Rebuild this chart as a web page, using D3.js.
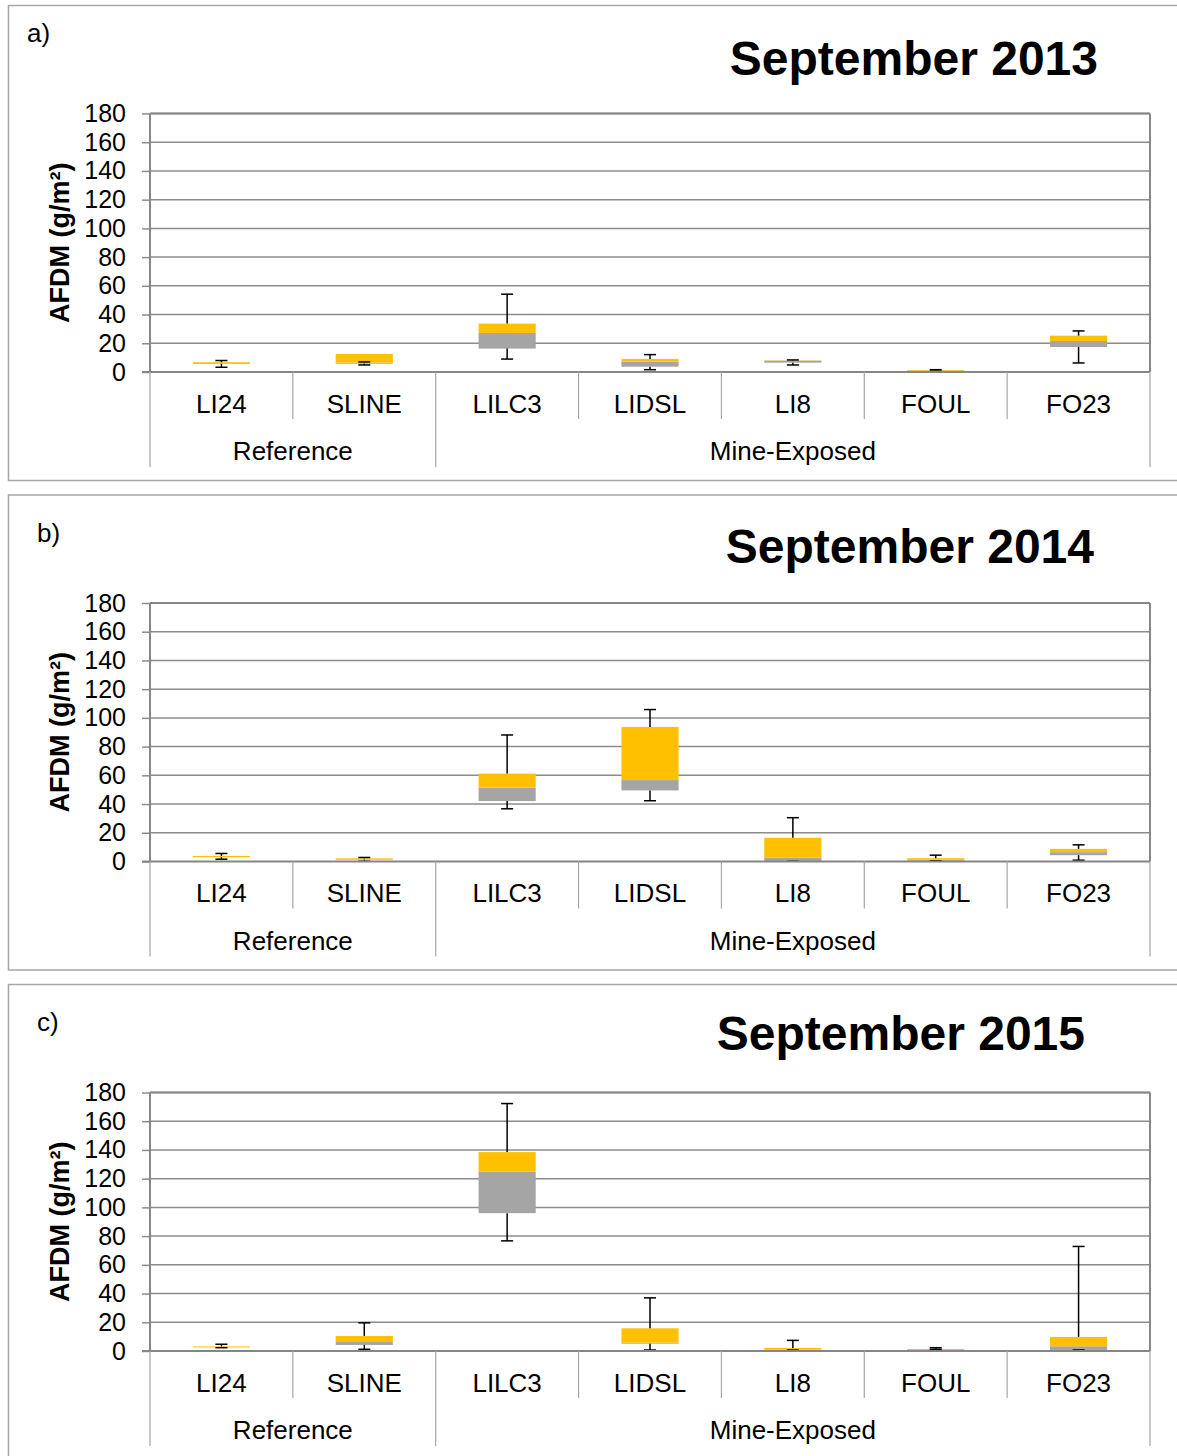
<!DOCTYPE html>
<html lang="en">
<head>
  <meta charset="utf-8">
  <title>AFDM September box plots</title>
  <script src="https://d3js.org/d3.v7.min.js" charset="utf-8"></script>
  <style type="text/css">
    body { margin: 0; background: #fff; }
    svg text { font-family: "Liberation Sans", Arial, sans-serif; fill: #000; }
  </style>
</head>
<body>
  <svg id="chart" width="1177" height="1456" xmlns="http://www.w3.org/2000/svg"></svg>
  <script type="text/javascript">
    // sites, grouped into Reference / Mine-Exposed
    var sites = ["LI24", "SLINE", "LILC3", "LIDSL", "LI8", "FOUL", "FO23"];
    var groupNames = ["Reference", "Mine-Exposed"];
    var groupSizes = [2, 5];
    var titles = ["September 2013", "September 2014", "September 2015"];
    var letters = ["a)", "b)", "c)"];
    var yTicks = [0, 20, 40, 60, 80, 100, 120, 140, 160, 180];

    // five number summaries, one array per statistic and year
    var min2013 = [3.3, 4.9, 9.0, 1.6, 4.9, 0.5, 6.3];
    var q1_2013 = [5.6, 5.8, 16.3, 3.7, 6.5, 0.7, 17.4];
    var med2013 = [5.6, 6.5, 27.2, 7.2, 7.9, 1.0, 21.6];
    var q3_2013 = [6.8, 12.6, 33.7, 9.1, 8.1, 1.4, 25.3];
    var max2013 = [8.0, 7.0, 54.2, 12.1, 8.4, 1.6, 28.6];

    var min2014 = [1.6, 0.2, 36.7, 42.3, 0.2, 0.5, 0.9];
    var q1_2014 = [3.0, 1.2, 42.1, 49.5, 0.2, 0.5, 4.4];
    var med2014 = [3.1, 1.2, 51.4, 56.7, 2.8, 1.2, 6.5];
    var q3_2014 = [3.9, 2.2, 61.2, 93.7, 16.5, 2.3, 8.8];
    var max2014 = [5.6, 2.8, 88.1, 105.8, 30.5, 4.4, 11.6];

    var min2015 = [2.3, 1.2, 76.7, 0.7, 0.7, 1.2, 0.7];
    var q1_2015 = [2.5, 4.2, 96.0, 5.1, 0.7, 0.5, 0.7];
    var med2015 = [2.6, 6.3, 124.9, 5.8, 0.9, 0.7, 3.3];
    var q3_2015 = [3.2, 10.5, 138.5, 15.8, 2.1, 1.4, 9.8];
    var max2015 = [4.7, 19.6, 172.3, 37.0, 7.4, 2.3, 72.8];

    var panels = [
      { min: min2013, q1: q1_2013, med: med2013, q3: q3_2013, max: max2013 },
      { min: min2014, q1: q1_2014, med: med2014, q3: q3_2014, max: max2014 },
      { min: min2015, q1: q1_2015, med: med2015, q3: q3_2015, max: max2015 }
    ];

    var panelTop = [0, 489.5, 979];
    var titlePos = [[1098, 75], [1094, 563], [1085, 1050]];
    var letterPos = [[27, 42], [37, 542], [37, 1031]];

    var svg = d3.select("#chart");
    var plotLeft = 150, plotRight = 1150, plotTop = 113.5, plotBottom = 372;

    var x = d3.scaleBand().domain(sites).range([plotLeft, plotRight]);
    var y = d3.scaleLinear().domain([0, 180]).range([plotBottom, plotTop]);
    var boxW = x.bandwidth() * 0.4;

    panels.forEach(function(p, i) {
      var g = svg.append("g").attr("transform", "translate(0," + panelTop[i] + ")");

      // outer frame
      g.append("rect")
        .attr("x", 8.5).attr("y", 5.5)
        .attr("width", 1200).attr("height", 475)
        .style("fill", "none").style("stroke", "#a6a6a6").style("stroke-width", 1.5);

      g.append("text")
        .attr("x", letterPos[i][0]).attr("y", letterPos[i][1] - panelTop[i])
        .attr("font-size", "26px")
        .text(letters[i]);

      g.append("text")
        .attr("x", titlePos[i][0]).attr("y", titlePos[i][1] - panelTop[i])
        .attr("text-anchor", "end")
        .attr("font-size", "48px").attr("font-weight", "bold")
        .text(titles[i]);

      // gridlines
      g.append("g").selectAll("line").data(yTicks.slice(1)).enter().append("line")
        .attr("x1", plotLeft).attr("x2", plotRight)
        .attr("y1", function(d) { return y(d); }).attr("y2", function(d) { return y(d); })
        .style("stroke", "#8c8c8c").style("stroke-width", 1.5);

      // y axis
      var yAxis = d3.axisLeft(y).tickValues(yTicks).tickSize(8).tickPadding(16);
      var ya = g.append("g").attr("transform", "translate(" + plotLeft + ",0)").call(yAxis);
      ya.select(".domain").remove();
      ya.selectAll(".tick line").style("stroke", "#8c8c8c").style("stroke-width", 1.5);
      ya.selectAll(".tick text").attr("font-size", "25px").style("font-family", "Liberation Sans, Arial, sans-serif");

      g.append("text")
        .attr("transform", "translate(69," + ((plotTop + plotBottom) / 2) + ") rotate(-90)")
        .attr("text-anchor", "middle")
        .attr("font-size", "27px").attr("font-weight", "bold")
        .text("AFDM (g/m\u00b2)");

      // boxes: lower (grey) q1 -> median, upper (yellow) median -> q3
      var bx = g.append("g");
      sites.forEach(function(s, k) {
        var cx = x(s) + x.bandwidth() / 2;
        bx.append("rect")
          .attr("x", cx - boxW / 2).attr("width", boxW)
          .attr("y", y(p.med[k])).attr("height", y(p.q1[k]) - y(p.med[k]))
          .style("fill", "#a5a5a5");
        bx.append("rect")
          .attr("x", cx - boxW / 2).attr("width", boxW)
          .attr("y", y(p.q3[k])).attr("height", y(p.med[k]) - y(p.q3[k]))
          .style("fill", "#ffc000");

        // whiskers
        var lowTop = Math.min(p.q1[k], p.max[k]);
        var segs = [[p.min[k], lowTop]];
        if (p.max[k] > p.q3[k]) segs.push([p.q3[k], p.max[k]]);
        segs.forEach(function(sg) {
          bx.append("line")
            .attr("x1", cx).attr("x2", cx)
            .attr("y1", y(sg[0])).attr("y2", y(sg[1]))
            .style("stroke", "#000").style("stroke-width", 1.5);
        });
        [p.min[k], p.max[k]].forEach(function(v) {
          bx.append("line")
            .attr("x1", cx - 6).attr("x2", cx + 6)
            .attr("y1", y(v)).attr("y2", y(v))
            .style("stroke", "#000").style("stroke-width", 1.5);
        });
      });

      // plot border
      g.append("line").attr("x1", plotLeft).attr("x2", plotRight)
        .attr("y1", plotTop).attr("y2", plotTop)
        .style("stroke", "#868686").style("stroke-width", 2);
      g.append("line").attr("x1", plotLeft - 8).attr("x2", plotRight)
        .attr("y1", plotBottom).attr("y2", plotBottom)
        .style("stroke", "#868686").style("stroke-width", 2);
      g.append("line").attr("x1", plotRight).attr("x2", plotRight)
        .attr("y1", plotTop).attr("y2", plotBottom)
        .style("stroke", "#868686").style("stroke-width", 2);
      g.append("line").attr("x1", plotLeft).attr("x2", plotLeft)
        .attr("y1", plotTop).attr("y2", plotBottom)
        .style("stroke", "#868686").style("stroke-width", 2);

      // category separators and labels
      var bounds = [];
      var start = 0;
      groupSizes.forEach(function(n) { bounds.push(start); start += n; });
      bounds.push(sites.length);

      sites.forEach(function(s, k) {
        if (k > 0 && bounds.indexOf(k) < 0) {
          g.append("line").attr("x1", x(s)).attr("x2", x(s))
            .attr("y1", plotBottom).attr("y2", 419)
            .style("stroke", "#a6a6a6").style("stroke-width", 1.2);
        }
        g.append("text")
          .attr("x", x(s) + x.bandwidth() / 2).attr("y", 412.5)
          .attr("text-anchor", "middle").attr("font-size", "26px")
          .text(s);
      });

      bounds.forEach(function(b) {
        var bxp = b < sites.length ? x(sites[b]) : plotRight;
        g.append("line").attr("x1", bxp).attr("x2", bxp)
          .attr("y1", plotBottom).attr("y2", 467)
          .style("stroke", "#a6a6a6").style("stroke-width", 1.2);
      });

      groupNames.forEach(function(name, j) {
        var a = x(sites[bounds[j]]);
        var e = bounds[j + 1] < sites.length ? x(sites[bounds[j + 1]]) : plotRight;
        g.append("text")
          .attr("x", (a + e) / 2).attr("y", 460)
          .attr("text-anchor", "middle").attr("font-size", "26px")
          .text(name);
      });
    });
  </script>
</body>
</html>
